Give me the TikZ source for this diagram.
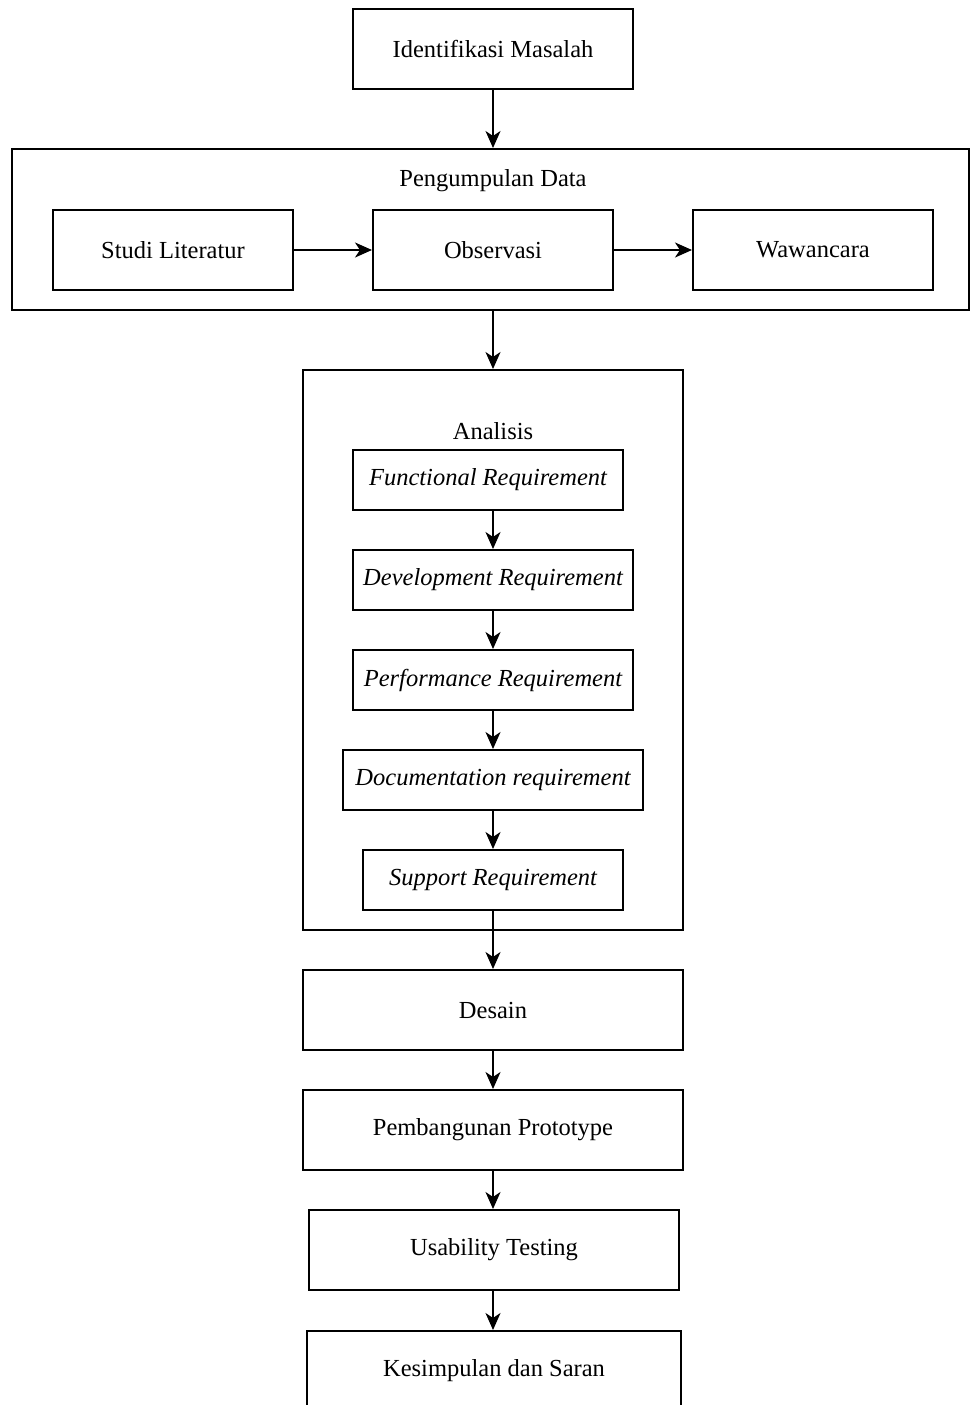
\documentclass[tikz,border=0pt]{standalone}
\usepackage{fontspec}
\setmainfont{Liberation Serif}
\usetikzlibrary{arrows.meta}
\begin{document}
\begin{tikzpicture}[x=1pt,y=-1pt,
  box/.style={draw,line width=2pt,inner sep=0pt,font=\fontsize{24.5}{28}\selectfont},
  lbl/.style={inner sep=0pt,font=\fontsize{24.5}{28}\selectfont},
  req/.style={box,minimum height=60pt,font=\fontsize{24.5}{28}\selectfont\itshape},
  arr/.style={line width=2pt,-{Stealth[length=17pt,width=15pt,inset=5pt]}}]
\useasboundingbox (0,0) rectangle (971,1405);
\clip (0,0) rectangle (971,1405);
\node[box,minimum width=280pt,minimum height=80pt] (idm) at (493,49) {Identifikasi Masalah};
\node[box,minimum width=957pt,minimum height=161pt] (pd) at (490.5,229.5) {};
\node[lbl] (pdl) at (493,181) {Pengumpulan Data};
\node[box,minimum width=240pt,minimum height=80pt] (stl) at (173,250) {Studi Literatur};
\node[box,minimum width=240pt,minimum height=80pt] (obs) at (493,250) {Observasi};
\node[box,minimum width=240pt,minimum height=80pt] (waw) at (813,250) {Wawancara};
\node[box,minimum width=380pt,minimum height=560pt] (ana) at (493,650) {};
\node[lbl] (anal) at (493,431) {Analisis};
\node[req,minimum width=270pt] (fr) at (488,480) {Functional Requirement};
\node[req,minimum width=280pt] (dr) at (493,580) {Development Requirement};
\node[req,minimum width=280pt] (pr) at (493,680) {Performance Requirement};
\node[req,minimum width=300pt] (docr) at (493,780) {Documentation requirement};
\node[req,minimum width=260pt] (sr) at (493,880) {Support Requirement};
\node[box,minimum width=380pt,minimum height=80pt] (des) at (493,1010) {Desain};
\node[box,minimum width=380pt,minimum height=80pt] (pp) at (493,1130) {Pembangunan Prototype};
\node[box,minimum width=370pt,minimum height=80pt] (ut) at (494,1250) {Usability Testing};
\node[box,minimum width=374pt,minimum height=80pt] (ks) at (494,1371) {Kesimpulan dan Saran};
\draw[arr] (idm.south) -- (pd.north -| idm.south);
\draw[arr] (stl.east) -- (obs.west);
\draw[arr] (obs.east) -- (waw.west);
\draw[arr] (pd.south -| ana.north) -- (ana.north);
\draw[arr] (fr.south -| dr.north) -- (dr.north);
\draw[arr] (dr.south) -- (pr.north);
\draw[arr] (pr.south) -- (docr.north);
\draw[arr] (docr.south) -- (sr.north);
\draw[arr] (sr.south) -- (des.north);
\draw[arr] (des.south) -- (pp.north);
\draw[arr] (pp.south) -- (ut.north -| pp.south);
\draw[arr] (ut.south -| pp.south) -- (ks.north -| pp.south);
\end{tikzpicture}
\end{document}
